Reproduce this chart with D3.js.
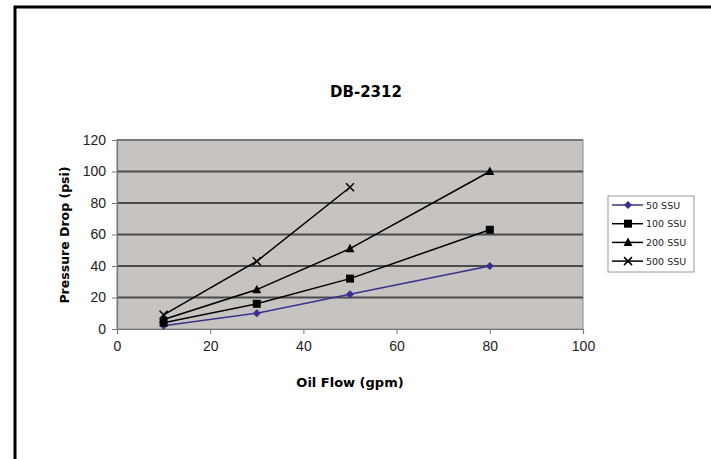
<!DOCTYPE html>
<html><head><meta charset="utf-8">
<script src="https://cdn.jsdelivr.net/npm/d3@7"></script>
<style>body{margin:0;background:#fff}svg{display:block}</style>
</head><body>
<svg id="c" width="711" height="459"></svg>
<script>
const xValues = [10, 30, 50, 80];
const seriesNames = ["50 SSU", "100 SSU", "200 SSU", "500 SSU"];
const ssu50 = [2, 10, 22, 40];
const ssu100 = [4, 16, 32, 63];
const ssu200 = [6, 25, 51, 100];
const ssu500 = [9, 43, 90];
const xTicks = [0, 20, 40, 60, 80, 100];
const yTicks = [0, 20, 40, 60, 80, 100, 120];
const title = "DB-2312";
const xTitle = "Oil Flow (gpm)";
const yTitle = "Pressure Drop (psi)";

const series = [
  {name: seriesNames[0], values: ssu50, color: "#3b2f8f", marker: "diamond"},
  {name: seriesNames[1], values: ssu100, color: "#000", marker: "square"},
  {name: seriesNames[2], values: ssu200, color: "#000", marker: "triangle"},
  {name: seriesNames[3], values: ssu500, color: "#000", marker: "x"}
];

const svg = d3.select("#c");
const font = "'DejaVu Sans', sans-serif";
const tickFont = "'Liberation Sans', Arial, sans-serif";

// outer frame
svg.append("rect").attr("x", 15).attr("y", 7).attr("width", 740).attr("height", 480)
  .attr("fill", "none").attr("stroke", "#000").attr("stroke-width", 3);

const L = 117, R = 583, T = 140, B = 329;
const x = d3.scaleLinear().domain([0, 100]).range([L, R]);
const y = d3.scaleLinear().domain([0, 120]).range([B, T]);

svg.append("rect").attr("x", L).attr("y", T).attr("width", R - L).attr("height", B - T)
  .attr("fill", "#c6c3c0").attr("stroke", "#8a8a8a").attr("stroke-width", 1);

// grid
svg.append("g").selectAll("line").data(yTicks.filter(d => d > 0)).join("line")
  .attr("x1", L).attr("x2", R).attr("y1", d => y(d)).attr("y2", d => y(d))
  .attr("stroke", d => d === 120 ? "#777" : "#4a4a4a").attr("stroke-width", 1.8);

// axes
const xAxis = svg.append("g").attr("transform", `translate(0,${B})`)
  .call(d3.axisBottom(x).tickValues(xTicks).tickSize(5).tickPadding(7));
const yAxis = svg.append("g").attr("transform", `translate(${L},0)`)
  .call(d3.axisLeft(y).tickValues(yTicks).tickSize(5).tickPadding(6));
[xAxis, yAxis].forEach(a => {
  a.select(".domain").attr("stroke", "#777").attr("stroke-width", 1.2);
  a.selectAll(".tick line").attr("stroke", "#777");
  a.selectAll("text").attr("font-family", tickFont).attr("font-size", 14).attr("fill", "#222");
});

// lines
const line = d3.line().x((d, i) => x(xValues[i])).y(d => y(d));

function drawMarker(g, type, cx, cy, color) {
  if (type === "diamond") {
    g.append("path").attr("d", `M${cx},${cy-4}L${cx+4},${cy}L${cx},${cy+4}L${cx-4},${cy}Z`).attr("fill", color);
  } else if (type === "square") {
    g.append("rect").attr("x", cx-4).attr("y", cy-4).attr("width", 8).attr("height", 8).attr("fill", color);
  } else if (type === "triangle") {
    g.append("path").attr("d", `M${cx},${cy-5}L${cx+4.5},${cy+3.5}L${cx-4.5},${cy+3.5}Z`).attr("fill", color);
  } else {
    g.append("path").attr("d", `M${cx-4},${cy-4}L${cx+4},${cy+4}M${cx+4},${cy-4}L${cx-4},${cy+4}`)
      .attr("stroke", color).attr("stroke-width", 1.5).attr("fill", "none");
  }
}

series.forEach(s => {
  const g = svg.append("g");
  g.append("path").attr("d", line(s.values)).attr("fill", "none")
    .attr("stroke", s.color).attr("stroke-width", 1.5);
  s.values.forEach((v, i) => drawMarker(g, s.marker, x(xValues[i]), y(v), s.color));
});

// titles
svg.append("text").attr("x", 366).attr("y", 97).attr("text-anchor", "middle")
  .attr("font-family", font).attr("font-weight", "bold").attr("font-size", 15).text(title);
svg.append("text").attr("x", 350).attr("y", 387).attr("text-anchor", "middle")
  .attr("font-family", font).attr("font-weight", "bold").attr("font-size", 13).text(xTitle);
svg.append("text").attr("transform", "translate(69,235) rotate(-90)").attr("text-anchor", "middle")
  .attr("font-family", font).attr("font-weight", "bold").attr("font-size", 12.5).text(yTitle);

// legend
const lg = svg.append("g");
lg.append("rect").attr("x", 608).attr("y", 196).attr("width", 86).attr("height", 76)
  .attr("fill", "#fff").attr("stroke", "#999").attr("stroke-width", 1);
series.forEach((s, i) => {
  const yy = 205 + i * 18.7;
  lg.append("line").attr("x1", 612).attr("x2", 643).attr("y1", yy).attr("y2", yy)
    .attr("stroke", s.color).attr("stroke-width", 1.5);
  drawMarker(lg, s.marker, 628, yy, s.color);
  lg.append("text").attr("x", 646).attr("y", yy + 3.5).attr("font-family", font)
    .attr("font-size", 9.5).attr("fill", "#222").text(s.name);
});
</script>
</body></html>
